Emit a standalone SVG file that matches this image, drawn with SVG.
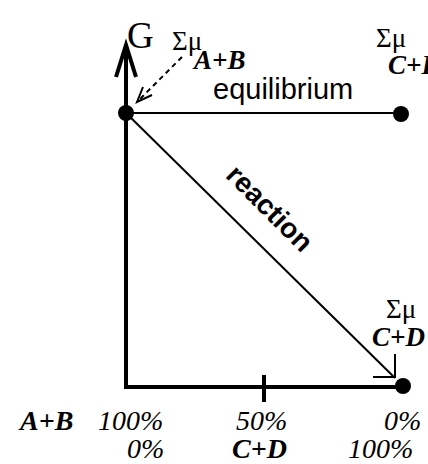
<svg xmlns="http://www.w3.org/2000/svg" width="428" height="464" viewBox="0 0 428 464">
<style>
.ser{font-family:"Liberation Serif","Times New Roman",serif;fill:#000}
.bi{font-family:"Liberation Serif","Times New Roman",serif;font-weight:bold;font-style:italic;fill:#000}
.it{font-family:"Liberation Serif","Times New Roman",serif;font-style:italic;fill:#000}
.sans{font-family:"Liberation Sans",Arial,sans-serif;fill:#000}
.ax{stroke:#000;stroke-width:4;fill:none}
.ln{stroke:#000;stroke-width:2;fill:none}
</style>
<rect width="428" height="464" fill="#fff"/>
<g id="connectors">
<path class="ax" d="M126,389 V46 M116,77 L126,45 L136,77"/>
<path class="ax" d="M124,387 H400"/>
<path class="ax" d="M264,375 V402"/>
<path class="ln" d="M126,113 H400"/>
<path class="ln" d="M126,113 L395,378"/>
<path class="ln" d="M373,377 H395 V354"/>
<path class="ln" d="M182,57 L139,100" stroke-dasharray="5,4"/>
<path class="ln" d="M143,87 L137,102 L152,95"/>
</g>
<g id="node-ab"><circle cx="126" cy="113" r="8"/></g>
<g id="node-eq"><circle cx="401" cy="114" r="8"/></g>
<g id="node-cd"><circle cx="403" cy="386" r="8"/></g>
<g id="labels">
<text class="ser" x="127" y="48" font-size="37">G</text>
<text class="ser" x="172" y="50" font-size="27">Σμ</text>
<text class="bi" x="194" y="69" font-size="27">A+B</text>
<text class="sans" x="213" y="99" font-size="29">equilibrium</text>
<text class="ser" x="376" y="47" font-size="27">Σμ</text>
<text class="bi" x="388" y="74" font-size="27">C+D</text>
<text class="sans" font-weight="bold" font-size="28" transform="translate(263,215) rotate(45)" text-anchor="middle">reaction</text>
<text class="ser" x="386" y="318" font-size="27">Σμ</text>
<text class="bi" x="372" y="346" font-size="27">C+D</text>
<text class="bi" x="20" y="430" font-size="28">A+B</text>
<text class="it" x="98" y="430" font-size="28">100%</text>
<text class="it" x="236" y="430" font-size="28">50%</text>
<text class="it" x="384" y="430" font-size="28">0%</text>
<text class="it" x="127" y="458" font-size="28">0%</text>
<text class="bi" x="232" y="458" font-size="28">C+D</text>
<text class="it" x="348" y="458" font-size="28">100%</text>
</g>
</svg>
